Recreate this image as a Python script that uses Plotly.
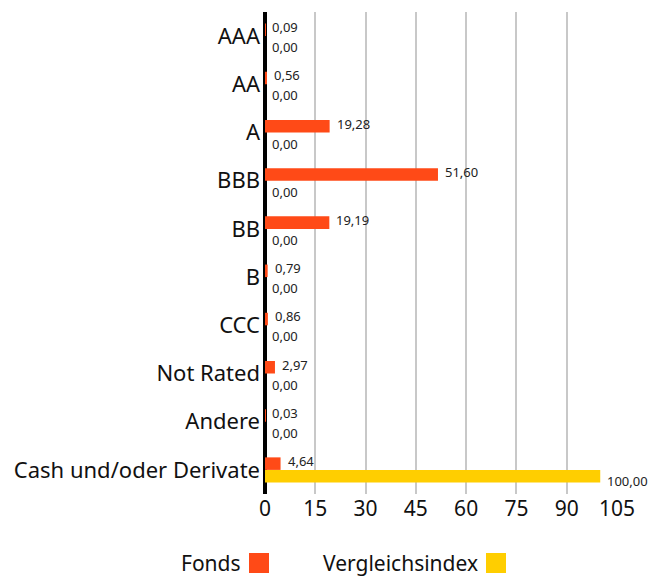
import plotly.graph_objects as go

categories = ["AAA", "AA", "A", "BBB", "BB", "B", "CCC", "Not Rated", "Andere", "Cash und/oder Derivate"]
fonds = [0.09, 0.56, 19.28, 51.60, 19.19, 0.79, 0.86, 2.97, 0.03, 4.64]
index_vals = [0.00, 0.00, 0.00, 0.00, 0.00, 0.00, 0.00, 0.00, 0.00, 100.00]
tick_vals = [0, 15, 30, 45, 60, 75, 90, 105]
series_names = ["Fonds", "Vergleichsindex"]
colors = ["#FF4A17", "#FFCE00"]

FONT = "Noto Sans"
OFF = 8  # page body margin offset
W, H = 661, 569
ML = 265 - OFF
MT = 12 - OFF
MR = W - (617 - OFF)
MB = H - (494 - OFF)

fig = go.Figure()
for name, vals, col in zip(series_names, [fonds, index_vals], colors):
    fig.add_trace(go.Bar(
        y=categories, x=vals, name=name, orientation="h",
        marker=dict(color=col, line=dict(width=0)),
        cliponaxis=False, showlegend=False,
    ))

# value labels: fonds above, index below the category centre
for vals, dy in [(fonds, 9), (index_vals, -11)]:
    for cat, v in zip(categories, vals):
        fig.add_annotation(x=v, y=cat, xref="x", yref="y",
                           text=f"{v:.2f}".replace(".", ","), showarrow=False,
                           xanchor="left", yanchor="middle", xshift=5, yshift=dy,
                           font=dict(size=13, color="#222222", family=FONT))

fig.update_layout(
    width=W, height=H,
    margin=dict(l=ML, r=MR, t=MT, b=MB, autoexpand=False),
    paper_bgcolor="white", plot_bgcolor="white",
    barmode="group", bargap=0.48, bargroupgap=0,
    separators=",.",
    font=dict(family=FONT, color="#111111"),
    xaxis=dict(range=[0, 105], tickvals=tick_vals, ticktext=[str(t) for t in tick_vals],
               showgrid=True, gridcolor="#c8c8c8", gridwidth=2,
               zeroline=True, zerolinecolor="#000000", zerolinewidth=4,
               tickfont=dict(size=21, color="#111111"), ticks="", showline=False,
               automargin=False, fixedrange=True),
    yaxis=dict(autorange="reversed", tickfont=dict(size=22, color="#111111"),
               ticks="", showline=False, showgrid=False, ticklabelstandoff=4,
               automargin=False),
)

plot_w = W - ML - MR
plot_h = H - MT - MB

def px_x(p):
    return (p - OFF - ML) / plot_w

def px_y(p):
    return (H - MB - (p - OFF)) / plot_h

# legend drawn with text first, then the swatch
legend_items = [(series_names[0], colors[0], 243, 249), (series_names[1], colors[1], 480, 486)]
for name, col, text_right, sq_left in legend_items:
    fig.add_annotation(x=px_x(text_right), y=px_y(563), xref="paper", yref="paper",
                       text=name, showarrow=False, xanchor="right", yanchor="middle",
                       font=dict(size=21, color="#111111", family=FONT))
    fig.add_shape(type="rect", xref="paper", yref="paper",
                  x0=px_x(sq_left), x1=px_x(sq_left + 20),
                  y0=px_y(573), y1=px_y(553),
                  fillcolor=col, line=dict(width=0))

fig.write_html("out.html")
